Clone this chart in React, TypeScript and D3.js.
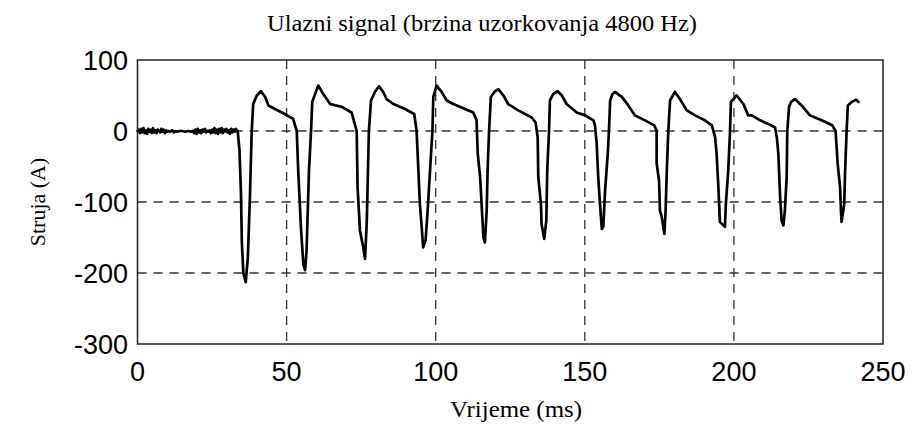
import React from "react";
import * as d3 from "d3";

const xTicks = [0, 50, 100, 150, 200, 250];
const yTicks = [100, 0, -100, -200, -300];
const xGrid = [50, 100, 150, 200];
const yGrid = [0, -100, -200];

// Pre-fault noise section (time ms, current A)
const noise: [number, number][] = [
  [0, 0], [0.4, 2], [0.8, -3], [1.2, 3], [1.6, -2], [2.0, 4], [2.4, -3], [2.8, 1], [3.2, -4], [3.6, 3],
  [4.0, -1], [4.4, 2], [4.8, -3], [5.2, 4], [5.6, -2], [6.0, 1], [6.4, -3], [6.8, 2], [7.2, 0], [7.6, -2],
  [8.0, 3], [8.4, -1], [8.8, 2], [9.2, -3], [9.6, 1], [10.0, -1], [10.4, 0], [11, -1], [11.6, 1], [12.2, -2],
  [12.8, 0], [13.4, -1], [14, 0], [15, 0], [16, -1], [17, 0], [18, -1], [18.6, 0], [19.0, -3], [19.4, 2],
  [19.8, -4], [20.2, 3], [20.6, -2], [21.0, 1], [21.4, -3], [21.8, 2], [22.2, -1], [22.6, 3], [23.0, -2], [23.4, 0],
  [23.8, -1], [24.2, 1], [24.6, -3], [25.0, 2], [25.4, -2], [25.8, 4], [26.2, -3], [26.6, 2], [27.0, -4], [27.4, 3],
  [27.8, -2], [28.2, 4], [28.6, -3], [29.0, 2], [29.4, -1], [29.8, 3], [30.2, -2], [30.6, 1], [31.0, -4], [31.4, 3],
  [31.8, -2], [32.2, 2], [32.6, -1], [33.0, 3], [33.4, 0],
];

// Fault current waveform (time ms, current A)
const wave: [number, number][] = [
  [33.6, 0], [34.2, -27], [34.7, -88], [35.0, -158], [35.5, -200], [36.3, -213], [37.0, -178], [37.7, -93],
  [38.3, 0], [38.8, 38], [40.0, 50], [41.4, 56], [42.8, 48], [43.9, 36], [46.1, 31], [48.9, 25], [52.2, 17],
  [53.4, 0], [53.9, -56], [54.8, -135], [55.6, -187], [56.2, -196], [56.7, -168], [57.5, -56], [58.2, 0],
  [58.6, 41], [60.6, 64], [62.3, 52], [64.6, 38], [68.5, 34], [71.8, 26], [73.5, 0],
  [73.8, -79], [74.6, -140], [75.7, -164], [76.3, -180], [76.9, -126], [77.2, -70], [77.6, 0], [78.3, 43],
  [79.6, 55], [81.0, 63], [82.4, 55], [83.5, 45], [85.8, 38], [89.7, 31], [92.8, 24], [93.6, 0],
  [94.2, -56], [94.7, -103], [95.3, -135], [95.8, -164], [96.6, -154], [97.3, -112], [98.1, -56], [98.9, 0],
  [99.2, 48], [100.3, 64], [102.0, 55], [103.7, 43], [105.9, 38], [109.8, 31], [112.6, 26], [113.7, 15],
  [114.1, -32], [114.9, -65], [116.0, -150], [116.5, -157], [117.1, -112], [117.4, -56], [117.9, 0],
  [118.5, 48], [119.7, 55], [121.0, 59], [122.7, 50], [124.3, 38], [127.7, 29], [132.2, 19], [133.5, 12],
  [134.2, -9], [134.4, -65], [135.3, -103], [135.5, -131], [136.4, -152], [137.1, -126], [137.4, -56], [138.0, 0],
  [138.3, 43], [139.4, 52], [140.9, 56], [142.3, 50], [143.9, 38], [147.3, 26], [150.1, 22], [152.9, 15],
  [153.4, 8], [154.0, -18], [154.5, -65], [155.1, -103], [155.7, -138], [156.2, -135], [156.8, -84], [157.7, -32],
  [158.1, 0], [158.5, 43], [159.3, 52], [160.1, 55], [162.4, 48], [164.6, 36], [166.8, 22], [170.2, 15],
  [173.3, 8], [174.1, 0], [174.1, -46], [174.9, -70], [175.2, -112], [175.8, -121], [176.7, -145], [177.1, -112],
  [177.5, -56], [178.0, 0], [178.6, 43], [180.2, 55], [181.9, 45], [184.2, 29], [187.0, 22], [190.3, 15],
  [192.6, 8], [193.7, -9], [194.2, -32], [194.8, -79], [195.3, -128], [197.0, -135], [197.3, -103], [198.1, -56],
  [198.7, 0], [199.0, 41], [200.9, 50], [203.2, 38], [204.8, 22], [206.0, 22], [208.8, 15], [211.5, 10],
  [213.8, 5], [214.4, -9], [214.9, -32], [215.5, -93], [216.0, -126], [216.6, -133], [217.1, -112], [217.7, -65],
  [217.9, 0], [218.5, 34], [219.2, 41], [220.5, 45], [222.7, 36], [225.5, 22], [229.4, 15], [233.0, 8],
  [234.1, 0], [234.8, -46], [235.6, -79], [235.9, -112], [236.1, -128], [237.0, -103], [237.3, -56], [237.8, 0],
  [238.2, 36], [239.5, 41], [241.0, 44], [241.8, 41],
];

const W = 913;
const H = 425;
const left = 137.5;
const right = 883;
const top = 60;
const bottom = 344;

export default function App() {
  const x = d3.scaleLinear().domain([0, 250]).range([left, right]);
  const y = d3.scaleLinear().domain([-300, 100]).range([bottom, top]);
  const line = d3
    .line<[number, number]>()
    .x((d) => x(d[0]))
    .y((d) => y(d[1]));
  const data = [...noise, ...wave];
  const serif = "'Liberation Serif', 'Times New Roman', serif";
  const sans = "'Liberation Sans', Arial, sans-serif";
  return (
    <svg width={W} height={H} style={{ position: "absolute", left: 0, top: 0, background: "#fff" }}>
      <rect x={0} y={0} width={W} height={H} fill="#fff" />
      {xGrid.map((v) => (
        <line key={"xg" + v} x1={x(v)} x2={x(v)} y1={top} y2={bottom} stroke="#333" strokeWidth={1.3} strokeDasharray="9,7" />
      ))}
      {yGrid.map((v) => (
        <line key={"yg" + v} x1={left} x2={right} y1={y(v)} y2={y(v)} stroke="#333" strokeWidth={1.3} strokeDasharray="9,7" />
      ))}
      <path d={line(data) || ""} fill="none" stroke="#000" strokeWidth={2.7} strokeLinejoin="round" strokeLinecap="round" />
      <rect x={left} y={top} width={right - left} height={bottom - top} fill="none" stroke="#222" strokeWidth={1.5} />
      {xTicks.map((v) => (
        <text key={"xt" + v} x={x(v)} y={381} textAnchor="middle" fontFamily={sans} fontSize={27} fill="#000">
          {v}
        </text>
      ))}
      {yTicks.map((v) => (
        <text key={"yt" + v} x={128} y={y(v) + 10} textAnchor="end" fontFamily={sans} fontSize={27} fill="#000">
          {v}
        </text>
      ))}
      <text x={482} y={31} textAnchor="middle" fontFamily={serif} fontSize={24} textLength={430} lengthAdjust="spacingAndGlyphs" fill="#000">
        Ulazni signal (brzina uzorkovanja 4800 Hz)
      </text>
      <text x={516} y={417} textAnchor="middle" fontFamily={serif} fontSize={24} textLength={132} lengthAdjust="spacingAndGlyphs" fill="#000">
        Vrijeme (ms)
      </text>
      <text transform={`translate(45,202) rotate(-90)`} textAnchor="middle" fontFamily={serif} fontSize={22} fill="#000">
        Struja (A)
      </text>
    </svg>
  );
}
